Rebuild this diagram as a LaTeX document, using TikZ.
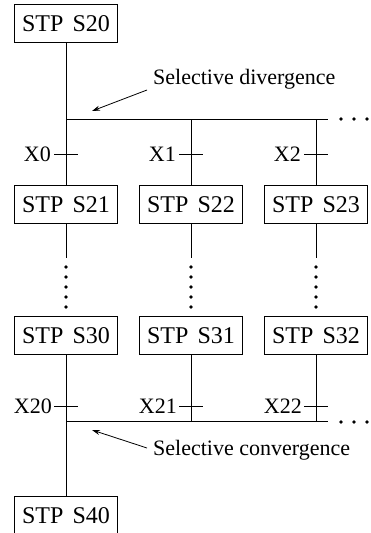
\documentclass[tikz,border=0pt]{standalone}
\usepackage{fontspec}
\setmainfont{Liberation Serif}
\usetikzlibrary{arrows.meta}
\begin{document}
\begin{tikzpicture}[x=1pt,y=-1pt,
  stepbox/.style={draw,line width=0.9pt,minimum width=103pt,minimum height=38pt,
                  inner sep=0pt,font=\fontsize{24}{28}\selectfont},
  wire/.style={line width=0.8pt},
  lbl/.style={font=\fontsize{22}{26}\selectfont,inner sep=0pt},
  dotmark/.style={circle,fill,inner sep=0pt,minimum size=3.6pt},
  pointer/.style={line width=0.8pt,-{Stealth[length=8pt,width=5pt]}}]
\useasboundingbox (0,0) rectangle (371,533);
\clip (0,0) rectangle (371,533);

% step boxes
\node[stepbox] (s20) at (66,23.5)  {STP\hspace{9pt}S20};
\node[stepbox] (s21) at (66,204.5) {STP\hspace{9pt}S21};
\node[stepbox] (s22) at (191,204.5) {STP\hspace{9pt}S22};
\node[stepbox] (s23) at (316,204.5) {STP\hspace{9pt}S23};
\node[stepbox] (s30) at (66,335.5) {STP\hspace{9pt}S30};
\node[stepbox] (s31) at (191,335.5) {STP\hspace{9pt}S31};
\node[stepbox] (s32) at (316,335.5) {STP\hspace{9pt}S32};
\node[stepbox] (s40) at (66,515.5) {STP\hspace{9pt}S40};

% divergence bus
\coordinate (d1) at (66,119);
\coordinate (d2) at (191,119);
\coordinate (d3) at (316,119);
\coordinate (dend) at (328,119);
\draw[wire] (s20.south) -- (d1) -- (dend);
\draw[wire] (d1) -- (s21.north);
\draw[wire] (d2) -- (s22.north);
\draw[wire] (d3) -- (s23.north);
\node[dotmark] (dm1) at (341,119) {};
\node[dotmark] (dm2) at (354,119) {};
\node[dotmark] (dm3) at (367,119) {};

% transition ticks below the divergence
\foreach \c/\n/\lab in {66/t0/X0, 191/t1/X1, 316/t2/X2}{
  \coordinate (\n) at (\c,154);
  \draw[wire] ([xshift=-12pt]\n) -- ([xshift=12pt]\n);
  \node[lbl,anchor=east] (\n l) at ([xshift=-15pt]\n) {\lab};
}

% elided steps in each branch
\foreach \up/\c in {s21/66, s22/191, s23/316}{
  \coordinate (\up e) at (\c,258);
  \draw[wire] (\up.south) -- (\up e);
  \foreach \y in {267,277,287,297,307}{
    \node[dotmark] (\up d\y) at (\c,\y) {};
  }
}

% convergence bus
\coordinate (m1) at (66,421);
\coordinate (m2) at (191,421);
\coordinate (m3) at (316,421);
\coordinate (mend) at (328,421);
\draw[wire] (s30.south) -- (s40.north);
\draw[wire] (s31.south) -- (m2);
\draw[wire] (s32.south) -- (m3);
\draw[wire] (m1) -- (mend);
\node[dotmark] (mm1) at (341,422) {};
\node[dotmark] (mm2) at (354,422) {};
\node[dotmark] (mm3) at (367,422) {};

% transition ticks above the convergence
\foreach \c/\n/\lab in {66/u0/X20, 191/u1/X21, 316/u2/X22}{
  \coordinate (\n) at (\c,406);
  \draw[wire] ([xshift=-12pt]\n) -- ([xshift=12pt]\n);
  \node[lbl,anchor=east] (\n l) at ([xshift=-14pt]\n) {\lab};
}

% annotations
\node[lbl,anchor=base west] (div) at (153,84) {Selective divergence};
\coordinate (divfrom) at (147,90);
\coordinate (divto) at (92,111);
\draw[pointer] (divfrom) -- (divto);

\node[lbl,anchor=base west] (conv) at (153,455) {Selective convergence};
\coordinate (convfrom) at (147,448);
\coordinate (convto) at (92,430);
\draw[pointer] (convfrom) -- (convto);
\end{tikzpicture}
\end{document}
